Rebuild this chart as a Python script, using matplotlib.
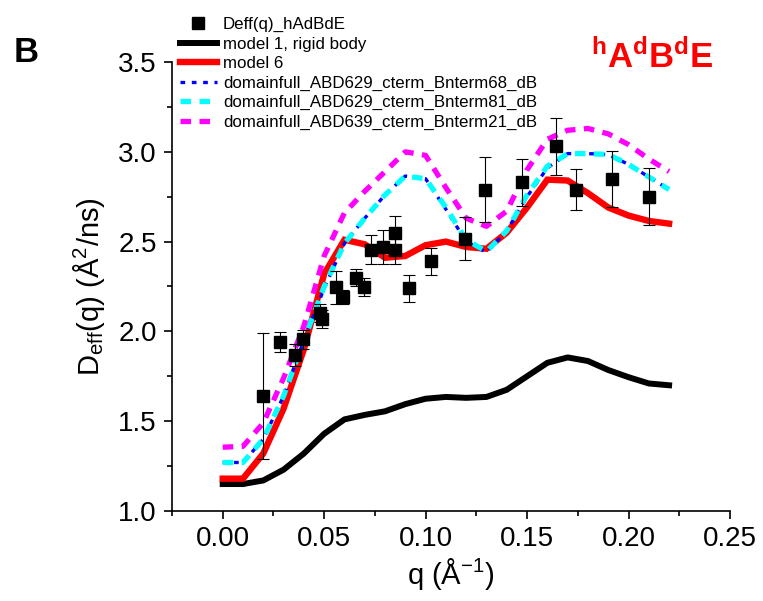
import matplotlib
matplotlib.use("Agg")
import matplotlib.pyplot as plt
from matplotlib.ticker import MultipleLocator, FormatStrFormatter

plt.rcParams['font.family'] = ['Liberation Sans', 'DejaVu Sans']
plt.rcParams['mathtext.fontset'] = 'custom'
plt.rcParams['mathtext.rm'] = 'Liberation Sans'
plt.rcParams['mathtext.it'] = 'Liberation Sans'
plt.rcParams['mathtext.bf'] = 'Liberation Sans:bold'

# Measured effective diffusion coefficients
q_exp = [0.0201, 0.0280, 0.0358, 0.0395, 0.0480, 0.0489, 0.0559, 0.0592,
         0.0657, 0.0698, 0.0729, 0.0788, 0.0848, 0.0848, 0.0918, 0.1028,
         0.1196, 0.1294, 0.1475, 0.1644, 0.1743, 0.1920, 0.2100]
d_exp = [1.64, 1.94, 1.87, 1.955, 2.10, 2.07, 2.245, 2.19,
         2.30, 2.245, 2.455, 2.47, 2.55, 2.455, 2.24, 2.39,
         2.515, 2.79, 2.83, 3.03, 2.79, 2.85, 2.75]
d_err = [0.35, 0.055, 0.06, 0.055, 0.05, 0.05, 0.09, 0.04,
         0.05, 0.05, 0.08, 0.095, 0.09, 0.08, 0.075, 0.075,
         0.12, 0.18, 0.13, 0.16, 0.115, 0.157, 0.16]

# Model q grid
q_model = [0.00, 0.01, 0.02, 0.03, 0.04, 0.05, 0.06, 0.07, 0.08, 0.09, 0.10, 0.11,
           0.12, 0.13, 0.14, 0.15, 0.16, 0.17, 0.18, 0.19, 0.20, 0.21, 0.22]

model1 = [1.15, 1.15, 1.17, 1.23, 1.32, 1.43, 1.51, 1.535, 1.555, 1.595, 1.625, 1.635,
          1.63, 1.635, 1.675, 1.75, 1.825, 1.855, 1.835, 1.785, 1.745, 1.71, 1.70]
model6 = [1.18, 1.18, 1.32, 1.57, 1.90, 2.32, 2.51, 2.485, 2.41, 2.42, 2.48, 2.50,
          2.47, 2.46, 2.55, 2.69, 2.845, 2.84, 2.77, 2.69, 2.645, 2.615, 2.60]
bnterm68 = [1.27, 1.27, 1.40, 1.64, 1.95, 2.24, 2.49, 2.63, 2.76, 2.865, 2.85, 2.68,
            2.50, 2.44, 2.56, 2.75, 2.91, 2.99, 2.99, 2.985, 2.93, 2.86, 2.79]
bnterm81 = [1.27, 1.27, 1.40, 1.64, 1.95, 2.25, 2.49, 2.63, 2.76, 2.865, 2.85, 2.69,
            2.51, 2.445, 2.56, 2.76, 2.92, 2.99, 2.99, 2.985, 2.93, 2.86, 2.79]
bnterm21 = [1.355, 1.36, 1.49, 1.74, 2.03, 2.42, 2.66, 2.78, 2.89, 3.00, 2.98, 2.80,
            2.63, 2.585, 2.67, 2.90, 3.07, 3.12, 3.13, 3.10, 3.04, 2.96, 2.89]

fig = plt.figure(figsize=(7.63, 6.01), dpi=100)
ax = fig.add_axes([0.2254, 0.1498, 0.7313, 0.7470])

ax.plot(q_model, model1, color='black', lw=4.3, solid_joinstyle='round',
        label='model 1, rigid body', zorder=2)
ax.plot(q_model, model6, color='#ff0000', lw=4.6, solid_joinstyle='miter',
        label='model 6', zorder=2)
ax.plot(q_model, bnterm68, color='#0000ff', lw=2.4, dashes=(1.4, 2.0),
        label='domainfull_ABD629_cterm_Bnterm68_dB', zorder=3)
ax.plot(q_model, bnterm81, color='#00ffff', lw=3.8, dashes=(2.0, 1.6),
        label='domainfull_ABD629_cterm_Bnterm81_dB', zorder=3)
ax.plot(q_model, bnterm21, color='#ff00ff', lw=3.8, dashes=(2.0, 1.6),
        label='domainfull_ABD639_cterm_Bnterm21_dB', zorder=3)

ax.errorbar(q_exp, d_exp, yerr=d_err, fmt='none', ecolor='black', elinewidth=0.8,
            capsize=4.3, capthick=0.8, zorder=4)
pts, = ax.plot(q_exp, d_exp, 's', color='black', ms=9.0, mec='black',
               label='Deff(q)_hAdBdE', zorder=5)

ax.set_xlim(-0.025, 0.25)
ax.set_ylim(1.0, 3.5)
ax.xaxis.set_major_locator(MultipleLocator(0.05))
ax.xaxis.set_minor_locator(MultipleLocator(0.025))
ax.yaxis.set_major_locator(MultipleLocator(0.5))
ax.yaxis.set_minor_locator(MultipleLocator(0.25))
ax.xaxis.set_major_formatter(FormatStrFormatter('%.2f'))
ax.yaxis.set_major_formatter(FormatStrFormatter('%.1f'))

for side in ('top', 'right'):
    ax.spines[side].set_visible(False)
for side in ('left', 'bottom'):
    ax.spines[side].set_linewidth(1.2)
ax.tick_params(which='major', direction='out', length=6, width=1.2, labelsize=20,
               pad=5)
ax.tick_params(which='minor', direction='out', length=3.5, width=1.2)

ax.set_xlabel('q (Å$^{-1}$)', fontsize=21, labelpad=3)
ax.set_ylabel('D$_{\\mathrm{eff}}$(q) (Å$^{2}$/ns)', fontsize=21, labelpad=8)

handles, labels = ax.get_legend_handles_labels()
order = [labels.index('Deff(q)_hAdBdE')] + [i for i, l in enumerate(labels)
                                              if l != 'Deff(q)_hAdBdE']
leg = ax.legend([handles[i] for i in order], [labels[i] for i in order],
                loc='upper left', bbox_to_anchor=(0.014, 1.0995), frameon=False,
                fontsize=12.2, handlelength=2.2, handletextpad=0.35,
                labelspacing=0.26, borderaxespad=0.0, borderpad=0.0)
for lh in leg.get_lines():
    if lh.get_marker() == 's':
        lh.set_markersize(8)

fig.text(0.034, 0.913, 'B', fontsize=25, fontweight='bold', ha='center',
         va='center')
fig.text(0.855, 0.905, r'$\mathbf{^{h}A^{d}B^{d}E}$', fontsize=25,
         color='#ff0000', ha='center', va='center')

fig.savefig('out.png', dpi=100)
